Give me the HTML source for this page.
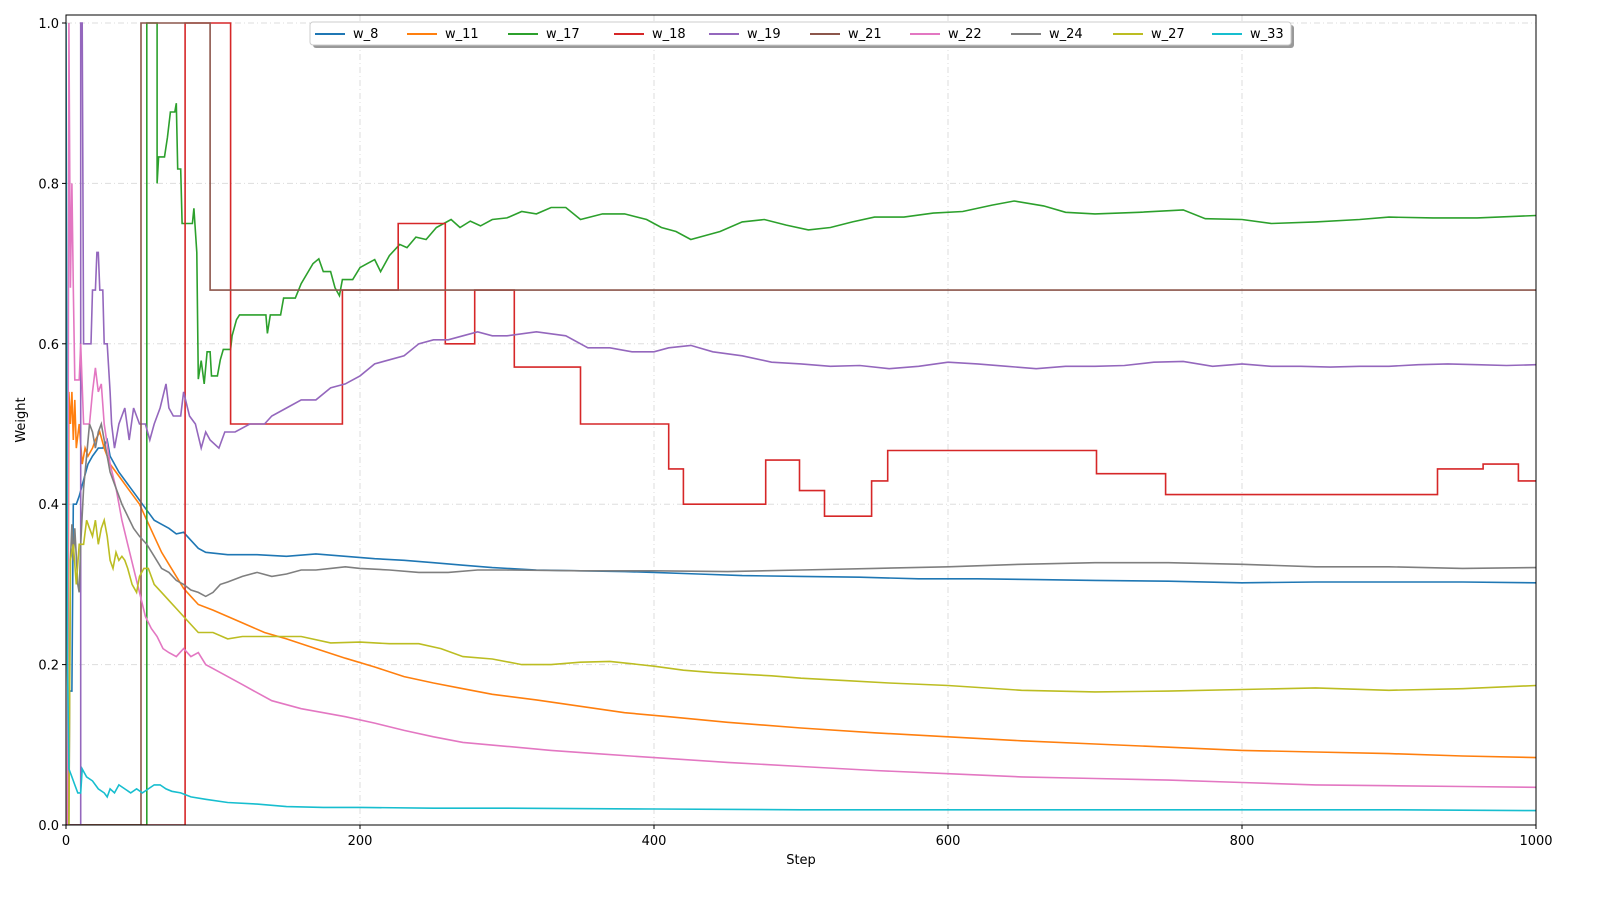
<!DOCTYPE html>
<html><head><meta charset="utf-8"><style>
body{margin:0;background:#fff;font-family:"Liberation Sans","DejaVu Sans",sans-serif}
svg text{font-family:"DejaVu Sans","Liberation Sans",sans-serif;font-size:13px;fill:#000}
</style></head><body>
<svg id="chart" width="1600" height="900" xmlns="http://www.w3.org/2000/svg"></svg>
<script>
const xTicks=[0,200,400,600,800,1000];
const yTicks=[0,0.2,0.4,0.6,0.8,1.0];
const seriesNames=["w_8","w_11","w_17","w_18","w_19","w_21","w_22","w_24","w_27","w_33"];
const seriesColors=["#1f77b4","#ff7f0e","#2ca02c","#d62728","#9467bd","#8c564b","#e377c2","#7f7f7f","#bcbd22","#17becf"];
const w8=[[3,0.167],[4,0.167],[5,0.4],[7,0.4],[9,0.41],[12,0.43],[15,0.45],[18,0.46],[22,0.47],[25,0.47],[28,0.48],[30,0.46],[33,0.45],[36,0.44],[40,0.43],[44,0.42],[48,0.41],[52,0.4],[56,0.39],[60,0.38],[65,0.375],[70,0.37],[75,0.363],[80,0.365],[85,0.355],[90,0.345],[95,0.34],[110,0.337],[130,0.337],[150,0.335],[170,0.338],[190,0.335],[210,0.332],[230,0.33],[250,0.327],[270,0.324],[290,0.321],[320,0.318],[350,0.317],[380,0.316],[400,0.315],[430,0.313],[460,0.311],[500,0.31],[540,0.309],[580,0.307],[620,0.307],[660,0.306],[700,0.305],[750,0.304],[800,0.302],[850,0.303],[900,0.303],[950,0.303],[1000,0.302]];
const w11=[[1,0],[2,0.54],[3,0.5],[4,0.54],[5,0.48],[6,0.53],[7,0.47],[9,0.5],[11,0.45],[13,0.47],[15,0.46],[18,0.47],[20,0.48],[23,0.49],[26,0.47],[30,0.45],[34,0.44],[38,0.43],[42,0.42],[46,0.41],[50,0.4],[55,0.38],[60,0.36],[65,0.34],[70,0.325],[75,0.31],[80,0.295],[85,0.285],[90,0.275],[100,0.268],[110,0.26],[120,0.252],[135,0.24],[150,0.232],[170,0.22],[190,0.208],[210,0.197],[230,0.185],[250,0.177],[270,0.17],[290,0.163],[320,0.156],[350,0.148],[380,0.14],[410,0.135],[450,0.128],[500,0.121],[550,0.115],[600,0.11],[650,0.105],[700,0.101],[750,0.097],[800,0.093],[850,0.091],[900,0.089],[950,0.086],[1000,0.084]];
const w17=[[0,0],[55,0],[55,1],[62,1],[62,0.8],[63,0.833],[67,0.833],[69,0.857],[71,0.889],[74,0.889],[75,0.9],[76,0.818],[78,0.818],[79,0.75],[86,0.75],[87,0.769],[89,0.714],[90,0.556],[92,0.579],[94,0.55],[96,0.59],[98,0.59],[99,0.56],[103,0.56],[105,0.58],[107,0.593],[112,0.593],[113,0.61],[116,0.63],[118,0.636],[136,0.636],[137,0.613],[139,0.636],[146,0.636],[148,0.657],[156,0.657],[160,0.675],[168,0.7],[172,0.706],[175,0.69],[180,0.69],[183,0.67],[186,0.66],[188,0.68],[195,0.68],[200,0.695],[205,0.7],[210,0.705],[214,0.69],[220,0.71],[227,0.724],[232,0.72],[238,0.733],[245,0.73],[252,0.745],[262,0.755],[268,0.745],[275,0.753],[282,0.747],[290,0.755],[300,0.757],[310,0.765],[320,0.762],[330,0.77],[340,0.77],[350,0.755],[365,0.762],[380,0.762],[395,0.755],[405,0.745],[415,0.74],[425,0.73],[435,0.735],[445,0.74],[460,0.752],[475,0.755],[490,0.748],[505,0.742],[520,0.745],[535,0.752],[550,0.758],[570,0.758],[590,0.763],[610,0.765],[630,0.773],[645,0.778],[665,0.772],[680,0.764],[700,0.762],[730,0.764],[760,0.767],[775,0.756],[800,0.755],[820,0.75],[850,0.752],[880,0.755],[900,0.758],[930,0.757],[960,0.757],[1000,0.76]];
const w18=[[0,0],[81,0],[81,1],[112,1],[112,0.5],[188,0.5],[188,0.667],[226,0.667],[226,0.75],[258,0.75],[258,0.6],[278,0.6],[278,0.667],[305,0.667],[305,0.571],[350,0.571],[350,0.5],[410,0.5],[410,0.444],[420,0.444],[420,0.4],[476,0.4],[476,0.455],[499,0.455],[499,0.417],[516,0.417],[516,0.385],[548,0.385],[548,0.429],[559,0.429],[559,0.467],[701,0.467],[701,0.438],[748,0.438],[748,0.412],[933,0.412],[933,0.444],[964,0.444],[964,0.45],[988,0.45],[988,0.429],[1000,0.429]];
const w19=[[0,0],[10,0],[10,1],[11,1],[12,0.6],[17,0.6],[18,0.667],[20,0.667],[21,0.714],[22,0.714],[23,0.667],[25,0.667],[26,0.6],[28,0.6],[30,0.54],[31,0.5],[33,0.47],[36,0.5],[40,0.52],[43,0.48],[46,0.52],[50,0.5],[54,0.5],[57,0.48],[60,0.5],[64,0.52],[68,0.55],[70,0.52],[73,0.51],[78,0.51],[80,0.54],[84,0.51],[88,0.5],[92,0.47],[95,0.49],[98,0.48],[104,0.47],[108,0.49],[115,0.49],[125,0.5],[135,0.5],[140,0.51],[150,0.52],[160,0.53],[170,0.53],[180,0.545],[190,0.55],[200,0.56],[210,0.575],[220,0.58],[230,0.585],[240,0.6],[250,0.605],[260,0.605],[270,0.61],[280,0.615],[290,0.61],[300,0.61],[320,0.615],[340,0.61],[355,0.595],[370,0.595],[385,0.59],[400,0.59],[410,0.595],[425,0.598],[440,0.59],[460,0.585],[480,0.577],[500,0.575],[520,0.572],[540,0.573],[560,0.569],[580,0.572],[600,0.577],[620,0.575],[640,0.572],[660,0.569],[680,0.572],[700,0.572],[720,0.573],[740,0.577],[760,0.578],[780,0.572],[800,0.575],[820,0.572],[840,0.572],[860,0.571],[880,0.572],[900,0.572],[920,0.574],[940,0.575],[960,0.574],[980,0.573],[1000,0.574]];
const w21=[[0,0],[51,0],[51,1],[98,1],[98,0.667],[1000,0.667]];
const w22=[[1,0],[2,1.0],[3,0.67],[4,0.8],[5,0.67],[6,0.555],[9,0.555],[10,0.6],[12,0.5],[16,0.5],[18,0.54],[20,0.57],[22,0.54],[24,0.55],[26,0.5],[30,0.45],[34,0.42],[38,0.38],[42,0.35],[46,0.32],[50,0.29],[54,0.26],[58,0.245],[62,0.235],[66,0.22],[70,0.215],[75,0.21],[80,0.22],[85,0.21],[90,0.215],[95,0.2],[100,0.195],[110,0.185],[120,0.175],[130,0.165],[140,0.155],[150,0.15],[160,0.145],[175,0.14],[190,0.135],[210,0.127],[230,0.118],[250,0.11],[270,0.103],[300,0.098],[330,0.093],[360,0.089],[400,0.084],[450,0.078],[500,0.073],[550,0.068],[600,0.064],[650,0.06],[700,0.058],[750,0.056],[800,0.053],[850,0.05],[900,0.049],[950,0.048],[1000,0.047]];
const w24=[[2,0],[3,0.33],[4,0.375],[5,0.33],[6,0.37],[8,0.3],[9,0.29],[10,0.35],[12,0.42],[14,0.46],[16,0.5],[18,0.49],[20,0.47],[22,0.49],[24,0.5],[26,0.48],[28,0.46],[30,0.44],[34,0.42],[38,0.4],[42,0.385],[46,0.37],[50,0.36],[55,0.35],[60,0.335],[65,0.32],[70,0.315],[75,0.305],[80,0.3],[85,0.293],[90,0.29],[95,0.285],[100,0.29],[105,0.3],[110,0.303],[120,0.31],[130,0.315],[140,0.31],[150,0.313],[160,0.318],[170,0.318],[180,0.32],[190,0.322],[200,0.32],[220,0.318],[240,0.315],[260,0.315],[280,0.318],[300,0.318],[350,0.317],[400,0.317],[450,0.316],[500,0.318],[550,0.32],[600,0.322],[650,0.325],[700,0.327],[750,0.327],[800,0.325],[850,0.322],[900,0.322],[950,0.32],[1000,0.321]];
const w27=[[2,0],[3,0.33],[5,0.35],[7,0.3],[9,0.35],[12,0.35],[14,0.38],[16,0.37],[18,0.36],[20,0.38],[22,0.35],[24,0.37],[26,0.38],[28,0.36],[30,0.33],[32,0.32],[34,0.34],[36,0.33],[38,0.335],[40,0.33],[42,0.32],[45,0.3],[48,0.29],[50,0.31],[53,0.32],[56,0.32],[60,0.3],[65,0.29],[70,0.28],[75,0.27],[80,0.26],[85,0.25],[90,0.24],[100,0.24],[110,0.232],[120,0.235],[140,0.235],[160,0.235],[180,0.227],[200,0.228],[220,0.226],[240,0.226],[255,0.22],[270,0.21],[290,0.207],[310,0.2],[330,0.2],[350,0.203],[370,0.204],[400,0.198],[420,0.193],[440,0.19],[460,0.188],[480,0.186],[500,0.183],[530,0.18],[560,0.177],[600,0.174],[650,0.168],[700,0.166],[750,0.167],[800,0.169],[850,0.171],[900,0.168],[950,0.17],[1000,0.174]];
const w33=[[0,1.0],[1,0.2],[2,0.07],[4,0.06],[6,0.05],[8,0.04],[10,0.04],[11,0.07],[14,0.06],[18,0.055],[22,0.045],[26,0.04],[28,0.035],[30,0.045],[33,0.04],[36,0.05],[40,0.045],[44,0.04],[48,0.045],[52,0.04],[56,0.045],[60,0.05],[64,0.05],[68,0.045],[72,0.042],[78,0.04],[85,0.035],[95,0.032],[110,0.028],[130,0.026],[150,0.023],[175,0.022],[200,0.022],[250,0.021],[300,0.021],[400,0.02],[500,0.019],[600,0.019],[700,0.019],[800,0.019],[900,0.019],[1000,0.018]];
const seriesData=[w8,w11,w17,w18,w19,w21,w22,w24,w27,w33];

const L=66,R=1536,T=23,B=825;
const xs=v=>L+(v/1000)*(R-L);
const ys=v=>B-v*(B-T);
const svg=document.getElementById('chart');
const NS='http://www.w3.org/2000/svg';
function mk(tag,attrs,parent){const e=document.createElementNS(NS,tag);for(const k in attrs)e.setAttribute(k,attrs[k]);(parent||svg).appendChild(e);return e;}

const grid=mk('g',{});


xTicks.forEach(t=>{const l=mk('line',{x1:xs(t),x2:xs(t),y1:15,y2:B,stroke:'#ddd','stroke-dasharray':'6,3,1,3','stroke-width':1},grid);});
yTicks.forEach(t=>{const l=mk('line',{x1:L,x2:R,y1:ys(t),y2:ys(t),stroke:'#ddd','stroke-dasharray':'6,3,1,3','stroke-width':1},grid);});

const clip=mk('clipPath',{id:'pc'});mk('rect',{x:L,y:15,width:R-L,height:B-15},clip);
const lines=mk('g',{'clip-path':'url(#pc)'});
seriesData.forEach((d,i)=>{
  const p=mk('polyline',{points:d.map(q=>xs(q[0]).toFixed(1)+','+ys(q[1]).toFixed(1)).join(' '),fill:'none',stroke:seriesColors[i],'stroke-width':1.6,'stroke-linejoin':'miter'},lines);
  
  
});

const frame=mk('rect',{x:L,y:15,width:R-L,height:B-15,fill:'none',stroke:'#000','stroke-width':1});



xTicks.forEach(t=>{mk('line',{x1:xs(t),x2:xs(t),y1:B,y2:B+4,stroke:'#000'});const tx=mk('text',{x:xs(t),y:B+20,'text-anchor':'middle'});tx.textContent=t;});
yTicks.forEach(t=>{mk('line',{x1:L-4,x2:L,y1:ys(t),y2:ys(t),stroke:'#000'});const tx=mk('text',{x:L-7,y:ys(t)+5,'text-anchor':'end'});tx.textContent=t.toFixed(1);});

const xl=mk('text',{x:801,y:864,'text-anchor':'middle'});xl.textContent='Step';


const yl=mk('text',{x:25,y:420,'text-anchor':'middle',transform:'rotate(-90 25 420)'});yl.textContent='Weight';



const lg=mk('g',{});


mk('rect',{x:313,y:25,width:981,height:23,rx:3,fill:'#999'},lg);
mk('rect',{x:310,y:22,width:981,height:23,rx:3,fill:'#fff',stroke:'#ccc'},lg);
const lx=[315,407,508,614,709,810,910,1011,1113,1212];
seriesNames.forEach((n,i)=>{
  const g=mk('g',{},lg);
  
  
  mk('line',{x1:lx[i],x2:lx[i]+30,y1:34,y2:34,stroke:seriesColors[i],'stroke-width':2},g);
  const t=mk('text',{x:lx[i]+38,y:38},g);t.textContent=n;
});
</script>
</body></html>
